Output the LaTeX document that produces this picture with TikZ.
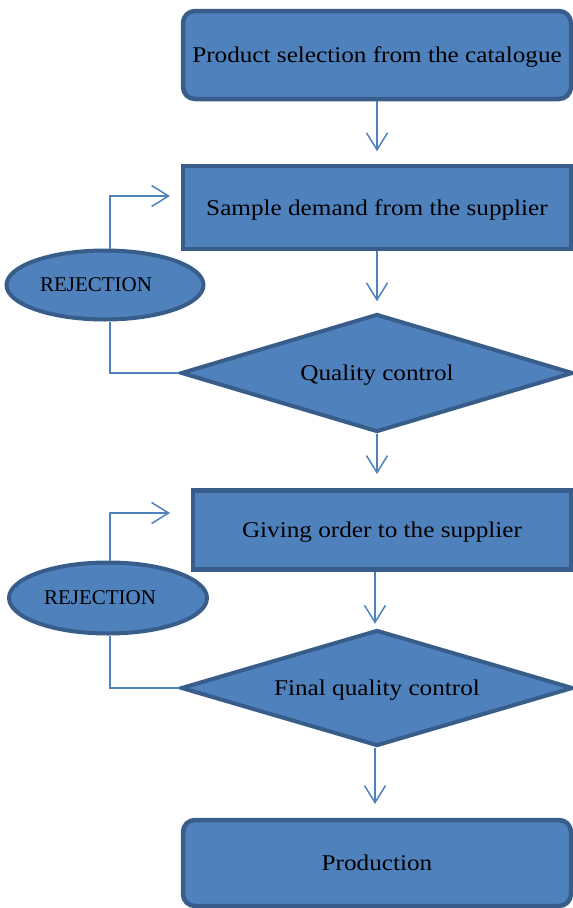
\documentclass[tikz,border=0pt]{standalone}
\usepackage{fontspec}
\setmainfont{Liberation Serif}
\newfontfamily\boxfont[FakeStretch=1.12]{Liberation Serif}
\usetikzlibrary{shapes.geometric,arrows.meta}

\definecolor{boxfill}{HTML}{4F81BD}
\definecolor{boxline}{HTML}{385D8A}

\tikzset{
  stepbox/.style = {draw=boxline, fill=boxfill, line width=4.5pt, inner sep=0pt,
                    text depth=0pt, font=\boxfont\fontsize{22.5}{27}\selectfont},
  roundbox/.style = {stepbox, rounded corners=12pt},
  checkbox/.style = {stepbox, diamond, shape aspect=3.3, line width=4pt},
  rejectbox/.style = {stepbox, ellipse, line width=4pt,
                      font=\fontsize{21}{25}\selectfont},
  flow/.style = {draw=boxfill, line width=1.5pt,
                 -{Straight Barb[length=17pt,width=21pt,line width=1.5pt]}},
  loop/.style = {draw=boxfill, line width=1.5pt}
}

\begin{document}
\begin{tikzpicture}[x=1pt,y=-1pt]
\useasboundingbox (0,0) rectangle (573,908);

\node[roundbox, minimum width=388pt, minimum height=88pt] (select) at (377,55)
  {Product selection from the catalogue};
\node[stepbox, minimum width=388pt, minimum height=83pt] (sample) at (377,207.5)
  {Sample demand from the supplier};
\node[checkbox, minimum width=392pt, minimum height=118pt] (quality) at (377,373)
  {Quality control};
\node[rejectbox, minimum width=197pt, minimum height=69pt] (reject1) at (105,285)
  {REJECTION\kern18pt};

\node[stepbox, minimum width=378pt, minimum height=79pt] (order) at (382,530)
  {Giving order to the supplier};
\node[checkbox, minimum width=392pt, minimum height=116pt] (final) at (377,688)
  {Final quality control};
\node[rejectbox, minimum width=198pt, minimum height=71pt] (reject2) at (108,598)
  {REJECTION\kern16pt};

\node[roundbox, minimum width=388pt, minimum height=86pt] (prod) at (377,863)
  {Production};

% main flow
\draw[flow] (select.south) -- ++(0,50);
\draw[flow] (sample.south) -- ++(0,50);
\draw[flow] (quality.south) -- ++(0,40);
\draw[flow] (order.south -| 375,0) -- ++(0,52);
\draw[flow] (final.south -| 375,0) -- ++(0,56);

% rejection loops
\draw[flow] (reject1.north -| 110,0) |- (170,196);
\draw[loop] (reject1.south -| 110,0) |- (quality.west);
\draw[flow] (reject2.north -| 110,0) |- (170,513);
\draw[loop] (reject2.south -| 110,0) |- (final.west);
\end{tikzpicture}
\end{document}
